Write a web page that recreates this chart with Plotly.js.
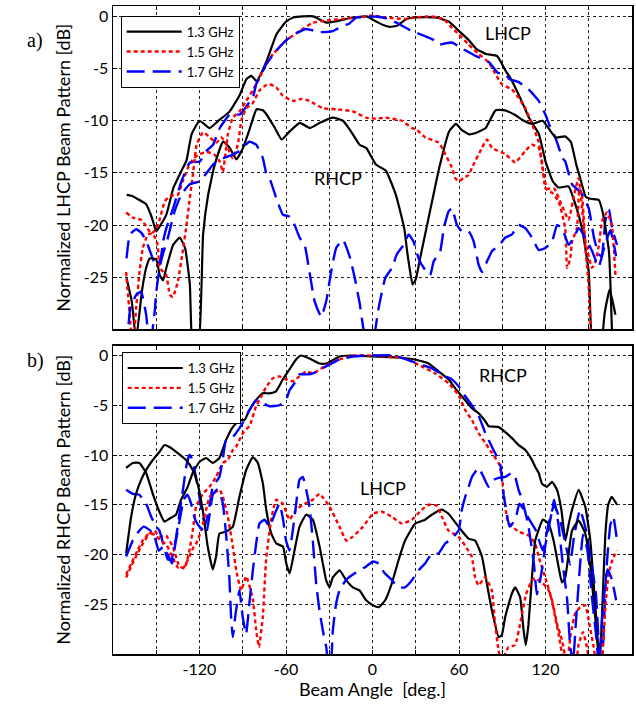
<!DOCTYPE html>
<html><head><meta charset="utf-8">
<script src="https://cdn.plot.ly/plotly-3.0.1.min.js"></script>
<style>html,body{margin:0;padding:0;background:#fff}</style>
</head><body>
<div id="chart" style="width:636px;height:711px"></div>
<script>
// ---------- labels ----------
const freqNames = ['1.3 GHz', '1.5 GHz', '1.7 GHz'];
const xTickVals = [-150, -120, -90, -60, -30, 0, 30, 60, 90, 120, 150];
const xTickText = ['', '-120', '', '-60', '', '0', '', '60', '', '120', ''];
const yTickVals = [0, -5, -10, -15, -20, -25];
const yTickText = ['0', '-5', '-10', '-15', '-20', '-25'];

// ---------- panel a) LHCP beam pattern: [angle deg, dB] ----------
const topLhcp13 = [[-170.5,-17.1],[-167,-17.2],[-163,-17.5],[-157,-18.0],[-153,-19.3],[-150,-20.6],[-147,-20.0],[-143,-19.0],[-138,-16.4],[-132.5,-14.8],[-129,-13.8],[-125.5,-11.3],[-120,-10.0],[-116,-10.4],[-113,-10.7],[-106,-9.9],[-99,-9.1],[-92,-7.5],[-87.4,-6.0],[-84,-5.7],[-80.4,-6.2],[-73.5,-4.3],[-66.6,-1.7],[-60,-0.5],[-55,-0.1],[-48,0],[-41,0],[-32,-0.6],[-23,-0.4],[-14,-0.1],[-4,0],[0,-0.3],[7,-0.8],[12,-1.0],[17,-0.9],[23,-0.3],[28,-0.1],[44,-0.1],[53,-0.5],[60,-1.4],[67,-2.3],[72,-3.1],[78.7,-3.6],[86.5,-3.8],[92.3,-5.2],[96,-6.0],[100,-7.1],[105,-8.6],[108.5,-9.7],[112,-10.5],[115.5,-11.3],[120,-13.9],[125,-15.8],[129,-16.4],[136,-16.3],[140.7,-18.0],[145.3,-20.3],[150,-24.5],[153,-32],[158,-32],[161,-28.5],[164.5,-26.2],[168.5,-28.6]];
const topLhcp15 = [[-170.9,-18.8],[-166,-19.3],[-160.5,-19.5],[-157,-20.1],[-153.5,-20.8],[-150,-20.4],[-147.7,-19.5],[-144,-17.7],[-140,-17.2],[-135,-17.1],[-131.6,-15.8],[-128,-14.5],[-124,-13.6],[-120,-13.2],[-115,-13.0],[-110,-13.2],[-106,-13.9],[-103.8,-14.9],[-100.3,-11.3],[-96.9,-9.7],[-92.2,-9.1],[-87.6,-8.1],[-83,-7.1],[-78.4,-5.9],[-73.8,-4.6],[-69,-3.6],[-60,-2.3],[-50.6,-1.4],[-41.4,-0.6],[-32,-0.4],[-18,-0.2],[-5,0],[0,0.1],[8.8,-0.1],[22.7,-0.25],[29.6,-0.1],[41.2,0],[49.3,-0.25],[55.1,-1.1],[59.7,-1.7],[66.7,-2.7],[73.6,-3.6],[80.6,-4.4],[85.2,-5.5],[89.8,-6.5],[96.7,-7.0],[101.4,-7.8],[106,-8.8],[110.6,-10.3],[115.2,-12.0],[117.5,-13.9],[120,-16.5],[124.5,-16.9],[129,-17.7],[133.7,-20.3],[135,-24.1],[137.2,-23.2],[138.4,-21.6],[141.8,-20.3],[143.5,-16.5],[145.3,-17.1],[147.6,-21.9],[150,-26],[152,-32]];
const topLhcp17 = [[-170.6,-23.2],[-168.3,-20.9],[-163.7,-20.4],[-160,-20.8],[-156.8,-21.6],[-153,-23.0],[-150,-24.0],[-147,-23.3],[-145.3,-21.6],[-143,-20.3],[-138.3,-18.4],[-132.5,-15.8],[-126.7,-14.0],[-119.8,-13.9],[-115.2,-12.9],[-110.6,-12.3],[-105.9,-10.7],[-99,-9.4],[-92,-9.4],[-89.9,-9.1],[-86.3,-8.4],[-83,-7.8],[-80.7,-6.5],[-78.4,-5.9],[-73.8,-4.6],[-66.8,-3.3],[-59.9,-2.3],[-54.1,-1.7],[-46,-1.2],[-36.7,-1.5],[-27.5,-1.4],[-20.5,-0.9],[-16.2,-0.7],[-11.3,-0.1],[-6.9,-0.1],[0,0],[7,-0.1],[12,-0.3],[18.1,-0.7],[27.3,-1.4],[36.6,-1.9],[41.7,-2.2],[45.9,-2.7],[50,-2.6],[55.1,-2.5],[62.5,-3.1],[71.8,-3.8],[81,-4.4],[86.8,-5.4],[92.1,-5.5],[94.9,-6.0],[101.4,-6.3],[108.3,-7.0],[115.3,-8.1],[119.9,-9.4],[122.7,-10.4],[126.8,-11.6],[131.9,-13.6],[133.7,-13.9],[138.4,-16.1],[144.7,-16.9],[150,-18.4],[153.6,-21.2],[156.9,-22.8],[159,-23.0],[161.5,-19.6],[164,-18.5],[166.2,-20.3],[169.6,-21.9]];
const topRhcp13 = [[-170.6,-25.1],[-167,-27.3],[-164,-31],[-160,-26.4],[-157,-24.1],[-154.5,-23.2],[-150,-23.3],[-147.6,-24.8],[-145.3,-25.3],[-143,-24.1],[-138.3,-21.9],[-133.7,-21.2],[-130,-22.2],[-126.7,-25.7],[-124.5,-32],[-121,-32],[-117.5,-20.9],[-114,-17.1],[-109.4,-14.2],[-103.6,-12.0],[-99,-12.6],[-94.4,-13.7],[-89.8,-12.6],[-85,-10.7],[-80.4,-8.9],[-76,-9.0],[-73.5,-9.4],[-67.7,-10.7],[-63,-11.8],[-57.3,-11.0],[-50.4,-10.2],[-43.4,-10.7],[-36.5,-10.2],[-27.6,-9.7],[-20.5,-10.0],[-16,-10.8],[-13.6,-11.3],[-9,-12.3],[-4.4,-12.6],[2.4,-14.2],[9.3,-14.8],[16.2,-17.1],[22,-20.3],[24.3,-22.8],[27.8,-25.7],[30,-25.2],[33.6,-22.8],[39.4,-19.0],[46.3,-14.5],[53.2,-11.0],[57.9,-10.3],[62,-10.9],[67,-11.3],[71,-11.2],[78.5,-10.7],[85.4,-9.0],[92,-9.0],[99.5,-9.5],[105,-10.0],[111,-10.3],[118,-10.0],[127,-11.6],[133.5,-11.5],[137.5,-12.0],[141.5,-14.3],[143.5,-15.2],[148,-17.3],[152,-17.5],[157,-17.6],[160,-19.0],[164,-22.5],[166.5,-32]];
const topRhcp15 = [[-170.9,-24.5],[-168.6,-28.3],[-166.2,-32],[-164,-28.0],[-161.6,-24.5],[-159.3,-22.2],[-155.8,-20.9],[-152.4,-20.8],[-149,-21.9],[-147.7,-24.1],[-143.1,-24.8],[-140.5,-26.7],[-138.5,-26.9],[-135,-25.4],[-131.6,-22.5],[-129.3,-20.3],[-127,-17.7],[-124.6,-15.2],[-122,-12.3],[-117.5,-11.1],[-112.8,-11.6],[-108.2,-12.1],[-104.7,-11.6],[-101.3,-12.3],[-96.9,-13.6],[-93.4,-12.3],[-91,-10.0],[-87.6,-8.8],[-83,-8.3],[-78.4,-7.1],[-74,-6.6],[-71.4,-6.5],[-66.8,-6.8],[-62.2,-7.6],[-55.2,-8.1],[-49,-7.9],[-43.7,-8.1],[-34.4,-8.8],[-25,-8.9],[-13.6,-9.1],[-4.4,-9.7],[2.4,-9.8],[8.9,-9.7],[20.4,-10.0],[27.3,-10.7],[31,-10.9],[36.6,-11.6],[45.9,-12.1],[50.5,-13.2],[55.1,-14.5],[57.4,-15.5],[59.7,-15.8],[63,-15.5],[66.7,-15.2],[69,-14.5],[75.9,-12.6],[79.4,-11.8],[82.9,-12.6],[92.1,-13.2],[99,-14.0],[106,-12.9],[110.6,-12.3],[115.3,-12.6],[118,-14.5],[121,-16.5],[126,-16.5],[131,-18.0],[136,-19.5],[140,-17.0],[143,-15.5],[147.6,-21.5],[152.3,-24.1],[154.6,-23.5],[157,-22.0],[159.3,-19.6],[162.6,-18.8],[166,-20.0],[168.5,-24.8]];
const topRhcp17 = [[-170.6,-32],[-168,-28.0],[-164,-26.7],[-160.5,-26.4],[-157,-28.6],[-154.5,-32],[-151.1,-28.3],[-150,-26.4],[-147.7,-24.1],[-145.4,-22.8],[-141.9,-21.2],[-137.3,-18.7],[-132.7,-17.1],[-126.9,-16.1],[-120,-15.8],[-115,-15.0],[-110.6,-14.2],[-103.6,-13.6],[-98,-13.3],[-92.2,-12.9],[-88,-12.3],[-85.3,-12.0],[-80.7,-12.3],[-76,-13.6],[-73.8,-15.0],[-71.4,-15.5],[-66.8,-17.4],[-62.2,-19.0],[-57.5,-19.2],[-54,-20.0],[-50.6,-21.2],[-47.1,-21.9],[-43.7,-24.5],[-40.2,-27.3],[-35.6,-28.8],[-32.1,-27.3],[-28.7,-24.5],[-25.2,-22.2],[-20.5,-21.4],[-15.9,-23.0],[-12.4,-25.0],[-8.9,-27.5],[-6.7,-29.6],[-3,-32],[0,-32],[2,-30],[4.2,-28],[8.8,-25.1],[13.5,-24.1],[16.9,-22.8],[21.6,-21.9],[25.1,-20.9],[28.5,-21.6],[32,-23.2],[35.5,-24.1],[40,-24.8],[42.4,-23.5],[47,-22.5],[49.5,-20.3],[52.8,-18.7],[55.1,-18.4],[58.6,-20.0],[62,-20.6],[66.7,-20.6],[70.2,-21.6],[73.6,-23.8],[75.9,-24.5],[79.4,-23.5],[82.9,-22.5],[87.5,-22.0],[92.1,-21.2],[96.7,-20.9],[101.4,-20.0],[106,-20.3],[110.6,-21.2],[115.3,-22.4],[119.9,-22.2],[124.5,-21.6],[128,-20.0],[131.4,-20.3],[136.1,-21.9],[139.6,-21.2],[143,-20.3],[147.6,-21.2],[152.3,-22.5],[156.9,-24.0],[161,-22.0],[165,-20.5],[169,-23.0]];

// ---------- panel b) RHCP beam pattern: [angle deg, dB] ----------
const botRhcp13 = [[-170.9,-11.3],[-166.3,-10.8],[-161.7,-10.8],[-157,-11.8],[-152.4,-13.9],[-147.8,-15.7],[-144.3,-16.7],[-140.9,-16.4],[-136.3,-16.0],[-132.8,-14.5],[-128.2,-13.2],[-124.7,-11.8],[-120.1,-10.7],[-115.4,-10.3],[-110.8,-10.8],[-106.2,-10.3],[-101.6,-8.5],[-96.9,-7.2],[-92.3,-6.5],[-88.8,-6.5],[-85.4,-5.5],[-80.8,-4.5],[-76.2,-3.8],[-71.5,-3.8],[-66.9,-3.6],[-62.2,-2.4],[-57.6,-1.4],[-53,-0.4],[-49.5,0],[-43.7,-0.3],[-36.7,-0.8],[-32,-0.8],[-22.8,-0.1],[-15.9,0],[0,-0.1],[18.3,-0.2],[29.6,-0.4],[38.9,-0.8],[45.9,-1.6],[52.8,-2.4],[57.4,-3.3],[63.2,-4.3],[69,-5.3],[73.6,-5.8],[78.2,-6.6],[80.5,-7.1],[87.5,-7.2],[92.1,-7.7],[96.7,-8.3],[101.4,-9.0],[106,-9.5],[110.6,-10.5],[112.9,-11.2],[115.3,-11.8],[117.6,-12.9],[121,-13.2],[124.5,-12.7],[128,-13.5],[131,-15.5],[133.8,-18.6],[136,-17.0],[138.4,-15.5],[143,-13.5],[147.6,-15.2],[151.1,-18.6],[153.4,-22.9],[155.5,-27],[157.5,-31.5],[159.5,-25],[161.5,-18],[163.5,-15],[166,-14.2],[169.6,-15.0]];
const botRhcp15 = [[-170.9,-22.3],[-167.4,-21.2],[-164,-20.2],[-159.3,-18.9],[-154.7,-17.9],[-151.2,-17.6],[-147.8,-18.2],[-143.2,-18.1],[-138.6,-19.2],[-133.9,-21.2],[-130.4,-21.4],[-127,-19.6],[-124.7,-17.6],[-122.4,-15.2],[-117.7,-13.9],[-113.1,-13.2],[-108.5,-12.2],[-103.8,-10.8],[-100.4,-10.5],[-96.9,-9.5],[-94.7,-9.2],[-89.9,-7.8],[-85,-7.0],[-80.8,-5.1],[-78.5,-4.5],[-73.9,-3.2],[-69.2,-2.3],[-64.6,-2.1],[-60,-2.4],[-55.3,-2.6],[-50.7,-2.1],[-46.1,-1.6],[-41.4,-1.8],[-29.9,-0.8],[-23,-0.4],[-13.7,0],[0,0],[22.7,-0.3],[34.2,-1.1],[43.5,-1.8],[52.8,-2.8],[59.8,-4.0],[64.4,-5.5],[69,-6.5],[73.6,-7.8],[78.3,-8.8],[82.9,-9.8],[87.5,-10.8],[89.8,-12.2],[91.5,-14.5],[93.5,-16.5],[96.7,-17.2],[101.4,-17.7],[108.3,-18.1],[112.9,-18.9],[115.2,-20.2],[119.8,-22.3],[124.5,-24.6],[126.7,-26.3],[129.1,-28.0],[132,-30.5],[134,-32],[140,-32],[143,-29],[146,-27.8],[149,-29.5],[151,-32],[153,-32]];
const botRhcp17 = [[-170.9,-13.5],[-166.3,-13.9],[-161.7,-14.0],[-157,-14.9],[-153.5,-16.2],[-150,-17.2],[-147.8,-17.6],[-145,-19.0],[-142,-20.5],[-139.5,-20.5],[-136.5,-18.5],[-133.5,-15.5],[-131,-13.0],[-129,-11.0],[-127,-10.0],[-125.5,-10.3],[-123,-11.8],[-120.5,-13.8],[-118,-16.0],[-116,-17.0],[-113.5,-15.5],[-110.8,-13.2],[-106.2,-12.2],[-103.9,-10.5],[-101.6,-8.5],[-97,-8.2],[-94.7,-7.8],[-90.1,-6.8],[-85.4,-5.5],[-80.8,-4.5],[-76.2,-4.8],[-71.5,-5.1],[-64.6,-5.0],[-60,-4.5],[-57.6,-3.5],[-54.2,-2.8],[-50.7,-1.9],[-45,-1.9],[-41.4,-1.8],[-36.8,-1.4],[-32.2,-1.1],[-22.9,-0.4],[-13.7,-0.1],[0,0],[15,0],[27.3,-0.6],[41.2,-1.3],[50.5,-2.1],[55.1,-2.4],[60.9,-3.3],[64.4,-4.1],[67.9,-4.8],[73.7,-6.1],[78.3,-7.8],[82.9,-9.2],[86.4,-10.2],[88.7,-11.0],[90.4,-13.5],[92.7,-15.5],[95,-17.2],[97.5,-16.8],[99.6,-16.2],[101.9,-14.9],[105,-15.5],[108.8,-16.5],[113.4,-17.6],[118,-19.6],[122,-17.0],[126,-15.0],[130,-16.5],[134,-19.0],[137,-21.0],[140,-18.0],[144,-15.5],[148,-17.5],[152,-21.0],[155,-24.0],[157,-29.0],[159,-31.5],[162,-22.0],[165,-17.0],[167,-16.2],[169.5,-18.5]];
const botLhcp13 = [[-170.9,-19.9],[-167.4,-16.2],[-164,-13.9],[-160.5,-12.5],[-157,-11.5],[-152.4,-10.5],[-147.8,-9.7],[-144.3,-9.0],[-140.9,-9.2],[-135.1,-9.8],[-129.3,-10.5],[-124.7,-11.5],[-121.3,-12.9],[-117.8,-15.5],[-114.3,-19.2],[-110.8,-21.5],[-108.5,-20.2],[-106.2,-17.9],[-101.5,-17.7],[-96.9,-17.2],[-92.3,-14.2],[-87.6,-11.5],[-83,-10.2],[-79.5,-10.8],[-76,-12.9],[-73.7,-15.5],[-70.2,-17.9],[-66.7,-18.9],[-62.1,-19.2],[-59.8,-20.9],[-57.5,-21.9],[-54.1,-19.6],[-50.6,-17.2],[-46,-16.0],[-41.4,-16.5],[-36.7,-19.2],[-32.1,-22.6],[-29.8,-23.3],[-27.5,-22.3],[-22.8,-21.6],[-18.2,-22.6],[-13.6,-23.3],[-9,-23.6],[-4.4,-24.6],[0.3,-25.1],[4.2,-25.3],[8.8,-24.6],[13.4,-22.9],[18,-20.6],[22.6,-18.6],[29.6,-16.9],[36.5,-16.5],[41.1,-16.0],[48.1,-15.5],[52.7,-15.9],[59.6,-17.2],[66.6,-18.4],[71.2,-18.6],[75.9,-20.2],[79.3,-22.9],[82.8,-25.6],[87.5,-28.3],[89.7,-28.1],[92,-26.3],[96.7,-23.9],[99,-23.3],[102.4,-24.3],[104.8,-27.6],[106.3,-29.1],[108.2,-27.0],[110.6,-22.3],[112.9,-18.6],[118.2,-16.5],[122.1,-16.9],[125.6,-18.6],[129,-21.2],[131.4,-22.8],[133.7,-22.3],[138.4,-17.6],[143,-16.6],[147.6,-17.9],[151.1,-21.2],[153.4,-24.6],[155.7,-28.3],[158,-32]];
const botLhcp15 = [[-170.9,-22.0],[-167,-20.8],[-163,-19.6],[-159,-18.5],[-155,-17.9],[-151,-18.0],[-147,-18.6],[-143,-19.0],[-139,-20.2],[-135,-21.3],[-131,-21.3],[-127,-20.2],[-124,-19.2],[-122.3,-18.9],[-118.8,-17.6],[-115.4,-15.5],[-113,-14.2],[-110.8,-13.9],[-106,-13.5],[-103.8,-14.2],[-100.3,-16.2],[-96.9,-19.2],[-94.5,-21.6],[-91.1,-23.6],[-87.6,-22.2],[-83,-24.5],[-80.7,-27.6],[-78.8,-29.3],[-76.1,-26.3],[-73.8,-20.5],[-70.3,-16.5],[-66.8,-14.5],[-62.2,-14.9],[-57.6,-16.5],[-53,-15.5],[-48.3,-15.0],[-41.4,-14.5],[-36.8,-13.9],[-29.8,-15.2],[-22.9,-17.2],[-18.2,-18.6],[-13.6,-18.2],[-6.6,-17.2],[0.3,-15.9],[6.5,-15.7],[13.4,-16.2],[20.4,-16.9],[27.3,-16.5],[34.3,-15.5],[38.9,-15.0],[44.7,-15.1],[48.1,-16.2],[52.7,-17.6],[59.6,-18.2],[64.2,-19.1],[68.8,-20.2],[71.2,-22.3],[73.5,-23.1],[78.1,-22.3],[82.7,-23.6],[85,-26.9],[87.4,-29.6],[89.5,-31],[92,-30],[94.3,-29.3],[98.9,-29.1],[103,-26.5],[106.5,-24.0],[110.6,-22.6],[112.9,-22.4],[117.6,-22.8],[122.2,-23.6],[125.6,-25.3],[127.9,-26.9],[131.4,-28.6],[134.8,-31],[137.5,-28],[140.6,-25.9],[144.1,-25.3],[147.6,-25.1],[150.5,-27.0],[153.4,-29.3],[155.5,-31],[158.5,-31],[161.5,-25.3],[163.8,-21.9],[166.5,-20.5],[169.6,-19.6]];
const botLhcp17 = [[-170.9,-20.2],[-166.3,-18.6],[-162.2,-17.7],[-158.7,-17.2],[-155,-17.5],[-151.8,-17.9],[-148.3,-19.6],[-144.9,-19.2],[-141.4,-20.2],[-139.1,-20.9],[-136.7,-18.9],[-133.3,-16.2],[-131,-14.5],[-128.5,-14.0],[-126,-14.8],[-123,-16.5],[-120,-17.2],[-117,-17.6],[-115.4,-17.9],[-113,-16.0],[-110.8,-14.0],[-108,-13.5],[-106,-13.8],[-103.8,-14.9],[-101.6,-17.9],[-99.3,-22.3],[-98.1,-26.3],[-96.9,-28.3],[-95,-26.0],[-92.3,-23.6],[-90,-26.3],[-87.7,-28.0],[-85.4,-24.9],[-83,-21.6],[-80.7,-18.9],[-78.4,-16.9],[-74.9,-16.5],[-71.4,-17.2],[-68,-16.0],[-64.5,-14.9],[-62,-16.5],[-60,-18.6],[-57.6,-19.6],[-55.3,-17.6],[-53,-15.0],[-50.7,-12.5],[-48.3,-12.2],[-46,-13.5],[-43.7,-15.2],[-41.4,-18.6],[-39.1,-22.9],[-36.8,-25.6],[-34,-28.0],[-32.1,-29.3],[-30.5,-31],[-29,-31],[-27.5,-27.6],[-25.2,-24.9],[-22.9,-23.6],[-18,-22.5],[-13.6,-22.0],[-9,-21.6],[-4.4,-21.2],[0.3,-20.7],[4.2,-20.9],[8,-21.8],[13,-22.5],[18,-23.3],[22.6,-23.3],[27.3,-22.6],[31.9,-21.6],[36.5,-20.9],[41.1,-19.9],[45.8,-19.9],[50.4,-18.9],[55,-18.4],[59.7,-17.6],[62,-15.5],[64.3,-14.2],[66.7,-13.2],[69,-12.2],[73.6,-11.3],[77,-12.2],[80.5,-13.2],[84,-12.5],[87.5,-12.3],[92.1,-12.2],[96.7,-11.8],[99,-12.2],[101.3,-13.5],[103.6,-14.4],[108,-17.0],[112,-21.0],[114,-24.0],[117,-22.0],[120,-19.0],[124,-16.0],[126,-14.5],[129,-17.0],[132,-21.0],[135,-24.5],[137,-29.0],[139,-31],[141,-27.0],[144,-21.0],[146,-18.0],[149,-19.5],[152,-24.0],[155,-28.0],[157,-31],[160,-25.0],[163,-21.5],[166,-22.5],[169,-24.6]];

// ---------- drawing ----------
const FONT = 'Lato, "Open Sans", sans-serif';
const lineStyles = [
  {color: '#000000', width: 2.2, dash: 'solid'},
  {color: '#ff0000', width: 2.4, dash: '4px,3px'},
  {color: '#0000ff', width: 2.4, dash: '18px,8px'}
];
function mk(series, i, yaxis, legendId, show) {
  return {
    type: 'scatter', mode: 'lines',
    x: series.map(p => p[0]), y: series.map(p => p[1]),
    xaxis: yaxis === 'y' ? 'x' : 'x2', yaxis: yaxis,
    name: freqNames[i], legend: legendId, showlegend: show,
    line: Object.assign({shape: 'spline', smoothing: 0.4}, lineStyles[i]),
    hoverinfo: 'skip'
  };
}
const traces = [
  mk(topLhcp13, 0, 'y', 'legend', true),
  mk(topLhcp15, 1, 'y', 'legend', true),
  mk(topLhcp17, 2, 'y', 'legend', true),
  mk(topRhcp13, 0, 'y', 'legend', false),
  mk(topRhcp15, 1, 'y', 'legend', false),
  mk(topRhcp17, 2, 'y', 'legend', false),
  mk(botRhcp13, 0, 'y2', 'legend2', true),
  mk(botRhcp15, 1, 'y2', 'legend2', true),
  mk(botRhcp17, 2, 'y2', 'legend2', true),
  mk(botLhcp13, 0, 'y2', 'legend2', false),
  mk(botLhcp15, 1, 'y2', 'legend2', false),
  mk(botLhcp17, 2, 'y2', 'legend2', false)
];

const axisBase = {
  showline: true, mirror: 'ticks', linecolor: '#000', linewidth: 1.5,
  ticks: 'inside', ticklen: 4, tickcolor: '#000', tickwidth: 1,
  showgrid: true, gridcolor: '#222', gridwidth: 1, griddash: 'dot',
  zeroline: false, tickfont: {family: FONT, size: 16, color: '#000'}
};
const xBase = Object.assign({}, axisBase, {range: [-180, 180], tickmode: 'array', tickvals: xTickVals, ticktext: xTickText});
const yBase = Object.assign({}, axisBase, {range: [-30, 1], tickmode: 'array', tickvals: yTickVals, ticktext: yTickText});
const legendBase = {
  xanchor: 'left', yanchor: 'top', bgcolor: '#fff', bordercolor: '#000', borderwidth: 1,
  font: {family: FONT, size: 13, color: '#000'}, tracegroupgap: 0, itemwidth: 55,
  entrywidth: 118, entrywidthmode: 'pixels'
};

const layout = {
  width: 636, height: 711,
  margin: {l: 113, r: 4, t: 6, b: 57},
  paper_bgcolor: '#fff', plot_bgcolor: '#fff',
  font: {family: FONT, color: '#000'},
  xaxis: Object.assign({}, xBase, {anchor: 'y', showticklabels: false}),
  xaxis2: Object.assign({}, xBase, {anchor: 'y2', matches: 'x',
    title: {text: 'Beam Angle\u00a0 [deg.]', font: {family: FONT, size: 18, color: '#000'}, standoff: 6}}),
  yaxis: Object.assign({}, yBase, {domain: [0.501, 1], anchor: 'x',
    title: {text: 'Normalized LHCP Beam Pattern [dB]', font: {family: FONT, size: 18, color: '#000'}, standoff: 8}}),
  yaxis2: Object.assign({}, yBase, {domain: [0, 0.476], anchor: 'x2',
    title: {text: 'Normalized RHCP Beam Pattern [dB]', font: {family: FONT, size: 18, color: '#000'}, standoff: 8}}),
  legend: Object.assign({}, legendBase, {x: 0.0148, y: 0.985}),
  legend2: Object.assign({}, legendBase, {x: 0.0168, y: 0.466}),
  showlegend: true,
  annotations: [
    {text: 'LHCP', x: 94, y: -1.6, xref: 'x', yref: 'y', showarrow: false, font: {family: FONT, size: 18, color: '#000'}},
    {text: 'RHCP', x: -24, y: -15.5, xref: 'x', yref: 'y', showarrow: false, font: {family: FONT, size: 18, color: '#000'}},
    {text: 'RHCP', x: 90.3, y: -2.0, xref: 'x2', yref: 'y2', showarrow: false, font: {family: FONT, size: 18, color: '#000'}},
    {text: 'LHCP', x: 7.6, y: -13.3, xref: 'x2', yref: 'y2', showarrow: false, font: {family: FONT, size: 18, color: '#000'}},
    {text: 'a)', x: -0.1705, y: 0.967, xref: 'paper', yref: 'paper', showarrow: false, font: {family: '"Liberation Serif", serif', size: 20, color: '#000'}},
    {text: 'b)', x: -0.1705, y: 0.453, xref: 'paper', yref: 'paper', showarrow: false, font: {family: '"Liberation Serif", serif', size: 20, color: '#000'}}
  ]
};

Plotly.newPlot('chart', traces, layout, {staticPlot: true, displayModeBar: false});
</script>
</body></html>
